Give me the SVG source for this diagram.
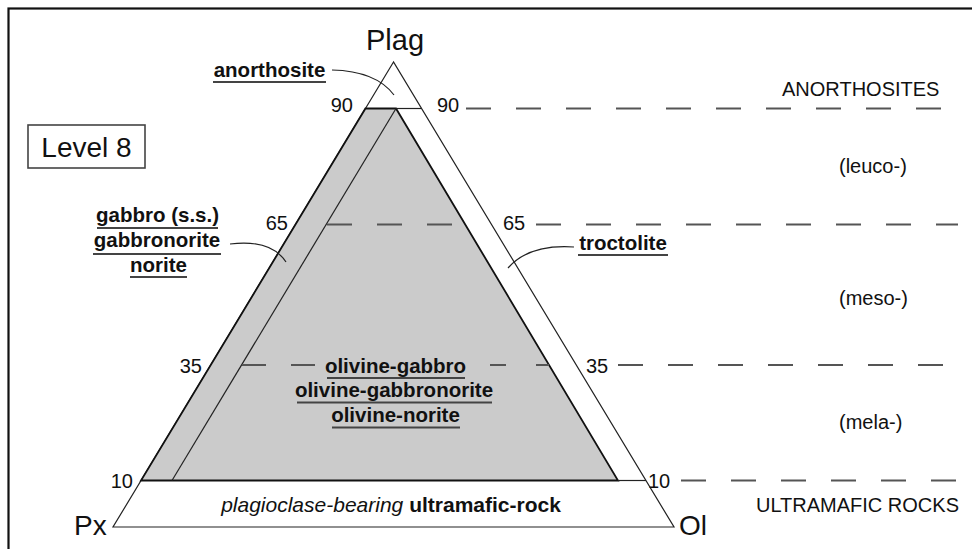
<svg xmlns="http://www.w3.org/2000/svg" width="972" height="549" viewBox="0 0 972 549">
<style>
.t{font-family:"Liberation Sans",Arial,sans-serif;fill:#111}
.b{font-weight:bold;font-size:20.5px}
.r{font-size:20px}
.big{font-size:29px}
.ul{stroke:#444;stroke-width:2}
.dash{stroke:#555;stroke-width:2;stroke-dasharray:25 25;fill:none}
.seg{stroke:#555;stroke-width:2}
.thin{stroke:#222;stroke-width:1.2;fill:none}
.thick{stroke:#111;stroke-width:1.8}
.lead{stroke:#222;stroke-width:1.2;fill:none}
</style>
<rect width="972" height="549" fill="#fff"/>
<g id="frame"><rect x="8.5" y="8.5" width="1000" height="600" fill="none" stroke="#111" stroke-width="2.2"/></g>
<g id="level-box">
<rect x="28" y="125" width="117" height="43" fill="#fff" stroke="#444" stroke-width="1.6"/>
<text class="t" x="86.5" y="157" font-size="28" text-anchor="middle">Level 8</text>
</g>
<g id="triangle">
<polygon points="393.5,62 113,527 674,527" fill="#fff" class="thin" stroke-width="1.4"/>
<polygon id="gray-field" points="365.45,108.5 396,108.5 618,480.5 141,480.5" fill="#cbcbcb" class="thick" stroke-linejoin="miter"/>
<line class="thin" x1="396" y1="108.5" x2="172" y2="480.5"/>
<line class="thin" x1="396" y1="108.5" x2="421.5" y2="108.5"/>
<line class="thin" x1="618" y1="480.5" x2="646" y2="480.5"/>
</g>
<g id="dashed-levels">
<line class="dash" x1="466" y1="108.5" x2="941" y2="108.5"/>
<line class="dash" x1="327" y1="224.5" x2="455" y2="224.5"/>
<line class="dash" x1="536" y1="224.5" x2="958" y2="224.5"/>
<line class="seg" x1="242" y1="365" x2="266" y2="365"/>
<line class="seg" x1="291" y1="365" x2="315" y2="365"/>
<line class="seg" x1="490" y1="365" x2="506" y2="365"/>
<line class="seg" x1="536" y1="365" x2="549" y2="365"/>
<line class="dash" x1="618" y1="365" x2="943" y2="365"/>
<line class="dash" x1="681" y1="480.5" x2="956" y2="480.5"/>
</g>
<g id="vertices">
<text class="t big" x="395" y="50" text-anchor="middle">Plag</text>
<text class="t" x="74" y="535" font-size="28">Px</text>
<text class="t" x="679" y="535" font-size="28">Ol</text>
</g>
<g id="scale-numbers">
<text class="t r" x="353" y="112" text-anchor="end">90</text>
<text class="t r" x="437" y="112">90</text>
<text class="t r" x="288" y="230" text-anchor="end">65</text>
<text class="t r" x="503" y="230">65</text>
<text class="t r" x="202" y="373" text-anchor="end">35</text>
<text class="t r" x="586" y="373">35</text>
<text class="t r" x="133" y="488" text-anchor="end">10</text>
<text class="t r" x="648" y="488">10</text>
</g>
<g id="anorthosite">
<text class="t b" x="269.5" y="77" text-anchor="middle">anorthosite</text>
<line class="ul" x1="213" y1="82" x2="326" y2="82"/>
</g>
<g id="gabbro">
<text class="t b" x="157.5" y="222" text-anchor="middle">gabbro (s.s.)</text>
<line class="ul" x1="97" y1="228" x2="218" y2="228"/>
<text class="t b" x="157" y="247" text-anchor="middle">gabbronorite</text>
<line class="ul" x1="93" y1="254" x2="221" y2="254"/>
<text class="t b" x="158.5" y="272" text-anchor="middle">norite</text>
<line class="ul" x1="130" y1="277" x2="187" y2="277"/>
</g>
<g id="troctolite">
<text class="t b" x="623" y="250" text-anchor="middle">troctolite</text>
<line class="ul" x1="578" y1="255" x2="668" y2="255"/>
</g>
<g id="olivine-gabbro">
<text class="t b" x="395.5" y="373" text-anchor="middle">olivine-gabbro</text>
<line class="ul" x1="327" y1="378" x2="465" y2="378"/>
<text class="t b" x="394" y="397" text-anchor="middle">olivine-gabbronorite</text>
<line class="ul" x1="297" y1="402.5" x2="492" y2="402.5"/>
<text class="t b" x="395.5" y="422" text-anchor="middle">olivine-norite</text>
<line class="ul" x1="332" y1="427.5" x2="460" y2="427.5"/>
</g>
<g id="ultramafic-field">
<text class="t" x="391" y="512" font-size="21" text-anchor="middle"><tspan font-style="italic">plagioclase-bearing</tspan> <tspan font-weight="bold">ultramafic-rock</tspan></text>
</g>
<g id="right-labels">
<text class="t r" x="782" y="96">ANORTHOSITES</text>
<text class="t r" x="839" y="173">(leuco-)</text>
<text class="t r" x="839" y="305">(meso-)</text>
<text class="t r" x="839" y="429">(mela-)</text>
<text class="t r" x="756" y="512">ULTRAMAFIC ROCKS</text>
</g>
<g id="connectors">
<path class="lead" d="M332,70 Q376,71 394,95"/>
<path class="lead" d="M230,244 Q271,239 286,262"/>
<path class="lead" d="M574,247 Q529,244 508,268"/>
</g>
</svg>
